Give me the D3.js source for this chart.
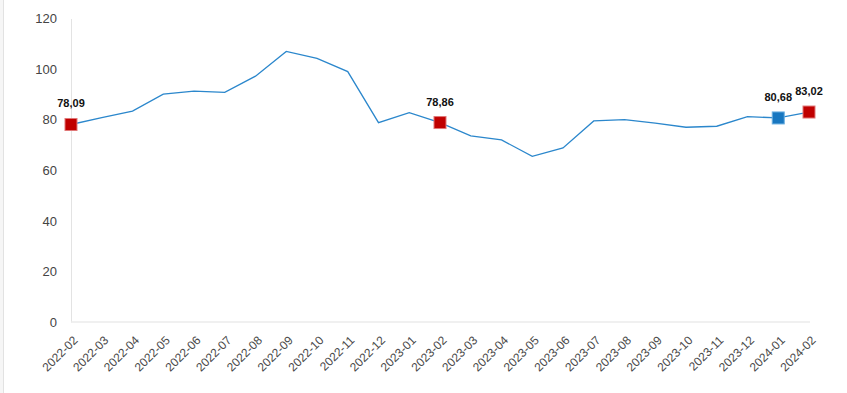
<!DOCTYPE html>
<html>
<head>
<meta charset="utf-8">
<script src="https://cdn.jsdelivr.net/npm/d3@7"></script>
<style>
  body { margin: 0; background: #fff; }
  svg { display: block; font-family: "Liberation Sans", Arial, sans-serif; }
</style>
</head>
<body>
<div id="chart"></div>
<script>
// months on the x axis
var months = ["2022-02","2022-03","2022-04","2022-05","2022-06","2022-07","2022-08","2022-09","2022-10","2022-11","2022-12","2023-01",
              "2023-02","2023-03","2023-04","2023-05","2023-06","2023-07","2023-08","2023-09","2023-10","2023-11","2023-12","2024-01","2024-02"];
var values = [78.09,80.8,83.4,90.1,91.3,90.8,97.2,107.0,104.2,99.0,78.8,82.8,
              78.86,73.6,72.0,65.5,68.8,79.5,80.0,78.6,77.0,77.4,81.2,80.68,83.02];
// highlighted points: index into months, and marker kind
var highlightIdx = [0, 12, 23, 24];
var highlightKind = ["red", "red", "blue", "red"];
var yTicks = [0,20,40,60,80,100,120];

var W = 847, H = 393;
var margin = {top: 18.5, right: 38, bottom: 71, left: 71};

var svg = d3.select("#chart").append("svg")
    .attr("width", W).attr("height", H);

// faint frame edge on the left
svg.append("rect").attr("x",0).attr("y",0).attr("width",3).attr("height",H).attr("fill","#f6f6f6");
svg.append("line").attr("x1",3.5).attr("x2",3.5).attr("y1",0).attr("y2",H)
    .attr("stroke","#e2e2e2").attr("stroke-width",1);

var x = d3.scalePoint()
    .domain(months)
    .range([margin.left, W - margin.right]);

var y = d3.scaleLinear()
    .domain([0,120])
    .range([H - margin.bottom, margin.top]);

// y axis
var yAxis = svg.append("g")
    .attr("transform","translate(" + margin.left + ",0)")
    .call(d3.axisLeft(y).tickValues(yTicks).tickSize(0).tickPadding(14));
yAxis.select(".domain").attr("stroke","#e3e3e3");
yAxis.selectAll("text").attr("font-size",13).attr("fill","#444");

// x axis
var xAxis = svg.append("g")
    .attr("transform","translate(0," + (H - margin.bottom) + ")")
    .call(d3.axisBottom(x).tickSize(0).tickPadding(0));
xAxis.select(".domain").attr("stroke","#ebebeb").attr("stroke-width",1.5)
    .attr("d","M" + margin.left + ",0H" + (x(months[months.length-1]) + 1));
xAxis.selectAll("text")
    .attr("font-size",12).attr("fill","#4a4a4a")
    .attr("text-anchor","end")
    .attr("dy",0)
    .attr("transform","translate(7,19) rotate(-45)");

// line
var line = d3.line()
    .x(function(d,i){ return x(months[i]); })
    .y(function(d){ return y(d); });

svg.append("path")
    .datum(values)
    .attr("d", line)
    .attr("fill","none")
    .attr("stroke","#2b87cc")
    .attr("stroke-width",1.3);

// markers + labels
var colors = {red: {fill:"#c00000", stroke:"#e07878"}, blue: {fill:"#1877c0", stroke:"#6aaee0"}};
for (var k = 0; k < highlightIdx.length; k++) {
    var i = highlightIdx[k];
    var cx = x(months[i]), cy = y(values[i]);
    var c = colors[highlightKind[k]];
    svg.append("rect")
        .attr("x", cx - 6).attr("y", cy - 6)
        .attr("width",12).attr("height",12)
        .attr("fill", c.fill).attr("stroke", c.stroke).attr("stroke-width",1);
    svg.append("text")
        .attr("x", cx).attr("y", cy - 17)
        .attr("text-anchor","middle")
        .attr("font-size",11).attr("font-weight","bold").attr("fill","#111")
        .text(d3.format(".2f")(values[i]).replace(".", ","));
}
</script>
</body>
</html>
